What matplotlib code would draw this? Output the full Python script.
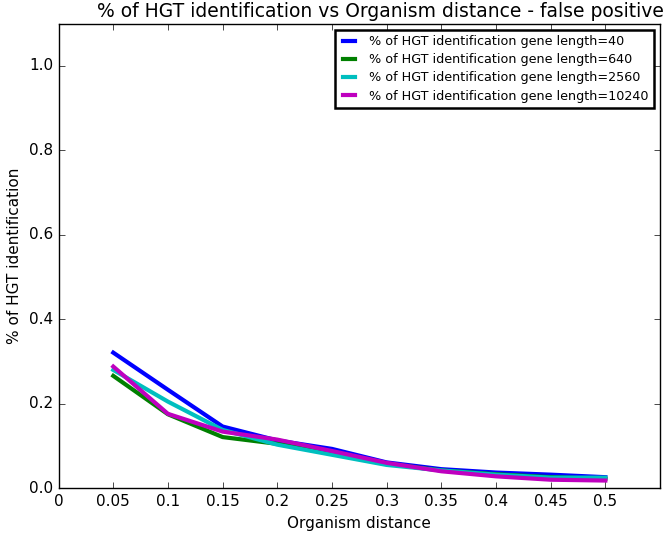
from matplotlib import pyplot as plt
import numpy as np

plt.style.use('classic')
plt.rcParams['font.family'] = 'DejaVu Sans'

distance = [0.05, 0.1, 0.15, 0.2, 0.25, 0.3, 0.35, 0.4, 0.45, 0.5]
len40 = [0.321, 0.233, 0.146, 0.113, 0.093, 0.061, 0.045, 0.037, 0.032, 0.026]
len640 = [0.266, 0.175, 0.121, 0.105, 0.082, 0.058, 0.042, 0.033, 0.026, 0.022]
len2560 = [0.280, 0.205, 0.138, 0.103, 0.079, 0.055, 0.042, 0.032, 0.025, 0.025]
len10240 = [0.288, 0.176, 0.134, 0.115, 0.088, 0.060, 0.040, 0.028, 0.020, 0.018]

series = [(len40, 'b', '40'), (len640, 'g', '640'),
          (len2560, 'c', '2560'), (len10240, 'm', '10240')]

fig = plt.figure(figsize=(6.66, 5.4), dpi=100, facecolor='white')
ax = fig.add_axes([0.088, 0.096, 0.903, 0.86])

for vals, col, lab in series:
    ax.plot(distance, vals, color=col, linewidth=3,
            label='% of HGT identification gene length=' + lab)

ax.set_xlim(0, 0.55)
ax.set_ylim(0, 1.1)
ax.set_xticks(np.arange(0, 0.51, 0.05))
ax.set_xticklabels(['0', '0.05', '0.1', '0.15', '0.2', '0.25', '0.3',
                    '0.35', '0.4', '0.45', '0.5'])
ax.set_yticks([0.0, 0.2, 0.4, 0.6, 0.8, 1.0])
ax.tick_params(labelsize=11)
ax.set_xlabel('Organism distance', fontsize=11)
ax.set_ylabel('% of HGT identification', fontsize=11)
ax.set_title('% of HGT identification vs Organism distance - false positive',
             fontsize=13.5, x=0.535)
leg = ax.legend(loc='upper right', fontsize=9.2, handlelength=1.5,
                borderaxespad=0.5, borderpad=0.4, labelspacing=0.4)
leg.get_frame().set_linewidth(1.8)

plt.savefig('out.png', dpi=100, facecolor='white')
